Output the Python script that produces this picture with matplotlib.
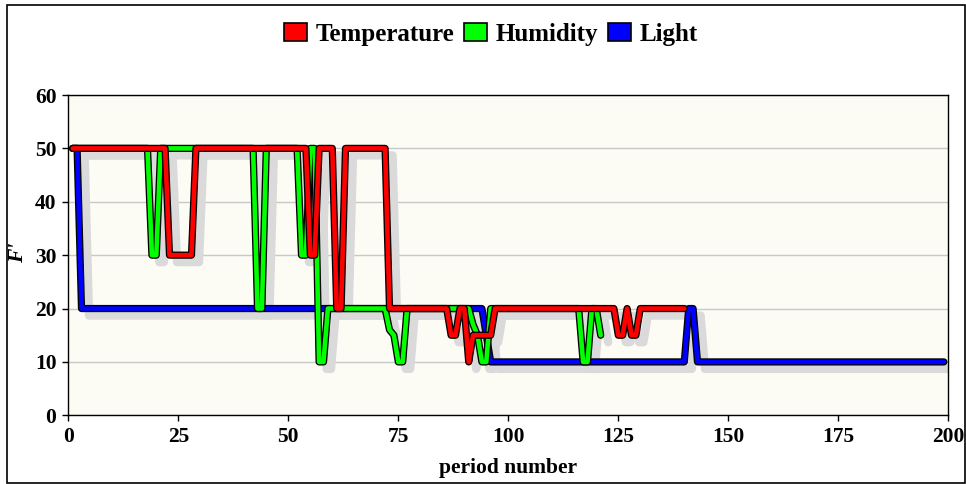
import numpy as np
import matplotlib
matplotlib.use("Agg")
import matplotlib.pyplot as plt
import matplotlib.patheffects as pe
import matplotlib.transforms as mtransforms
from matplotlib.patches import Patch, Rectangle

# ----------------------------------------------------------------------------
# Data (value, number of periods), periods start at 1
# ----------------------------------------------------------------------------
temp_values = [50, 30, 50, 30, 50, 20, 50, 20, 15, 20, 10, 15, 20, 15, 20, 15, 20]
temp_runs = [22, 6, 26, 2, 4, 2, 10, 14, 2, 2, 1, 5, 28, 2, 1, 2, 11]

hum_values = [50, 30, 50, 20, 50, 30, 50, 10, 20, 16, 15, 10, 20, 17, 15, 10, 20, 10, 20, 15]
hum_runs = [18, 2, 22, 2, 8, 2, 2, 2, 14, 1, 1, 2, 15, 1, 1, 2, 21, 2, 2, 1]

light_values = [50, 20, 15, 10, 20, 10]
light_runs = [2, 92, 1, 45, 2, 57]

series_names = ["Temperature", "Humidity", "Light"]
series_colors = ["#ff0000", "#00ff00", "#0000ff"]

x_ticks = [0, 25, 50, 75, 100, 125, 150, 175, 200]
y_ticks = [0, 10, 20, 30, 40, 50, 60]

SERIF = "Liberation Serif"
BG = "#fcfcf4"
SHADOW = "#dadada"


def expand(values, runs):
    y = np.repeat(values, runs)
    x = np.arange(1, len(y) + 1)
    return x, y


# ----------------------------------------------------------------------------
# Figure
# ----------------------------------------------------------------------------
W, H = 966, 484
fig = plt.figure(figsize=(W / 100, H / 100), dpi=100)
fig.patch.set_facecolor("white")
ax = fig.add_axes([68.3 / W, 1 - 415.3 / H, 880 / W, 320.3 / H])
ax.set_facecolor(BG)

series = [expand(temp_values, temp_runs),
          expand(hum_values, hum_runs),
          expand(light_values, light_runs)]

# shadows first, under every line
shadow_tr = mtransforms.offset_copy(ax.transData, fig=fig, x=7.5, y=-7, units="dots")
for x, y in series:
    ax.plot(x, y, color=SHADOW, lw=6, transform=shadow_tr, zorder=2,
            solid_joinstyle="round", solid_capstyle="round")

# lines: Light at the bottom, Temperature on top
for (x, y), color, z in zip(series, series_colors, [5, 4, 3]):
    ax.plot(x, y, color=color, lw=3.3, zorder=z,
            solid_joinstyle="round", solid_capstyle="round",
            path_effects=[pe.Stroke(linewidth=5.2, foreground="black"), pe.Normal()])

ax.set_xlim(0, 200)
ax.set_ylim(0, 60)
ax.set_xticks(x_ticks)
ax.set_yticks(y_ticks)
ax.grid(axis="y", color="#c8c8c8", lw=1)
ax.set_axisbelow(True)
ax.tick_params(direction="out", length=4, width=1, pad=4.5)
for lab in ax.get_xticklabels() + ax.get_yticklabels():
    lab.set_fontfamily(SERIF)
    lab.set_fontweight("bold")
    lab.set_fontsize(15.5)
for sp in ax.spines.values():
    sp.set_linewidth(1)

fig.text(508 / W, 1 - 468 / H, "period number", ha="center", va="center",
         family=SERIF, weight="bold", size=15.5)
fig.text(18 / W, 1 - 253 / H, "F'", ha="center", va="center", rotation=90,
         family=SERIF, weight="bold", style="italic", size=15.5)

# legend
handles = [Patch(facecolor=c, edgecolor="black", linewidth=1.2) for c in series_colors]
fig.legend(handles, series_names, loc="center", bbox_to_anchor=(491 / W, 1 - 34 / H),
           ncol=3, frameon=False,
           prop={"family": SERIF, "weight": "bold", "size": 18},
           handlelength=0.9, handleheight=0.75, handletextpad=0.35, columnspacing=0.4)

# outer frame
fig.patches.append(Rectangle((7.3 / W, 1 - 482.7 / H), (965 - 7.3) / W, (482.7 - 4.7) / H,
                             transform=fig.transFigure, fill=False, edgecolor="black",
                             linewidth=1.2))

fig.savefig("out.png", dpi=100)
